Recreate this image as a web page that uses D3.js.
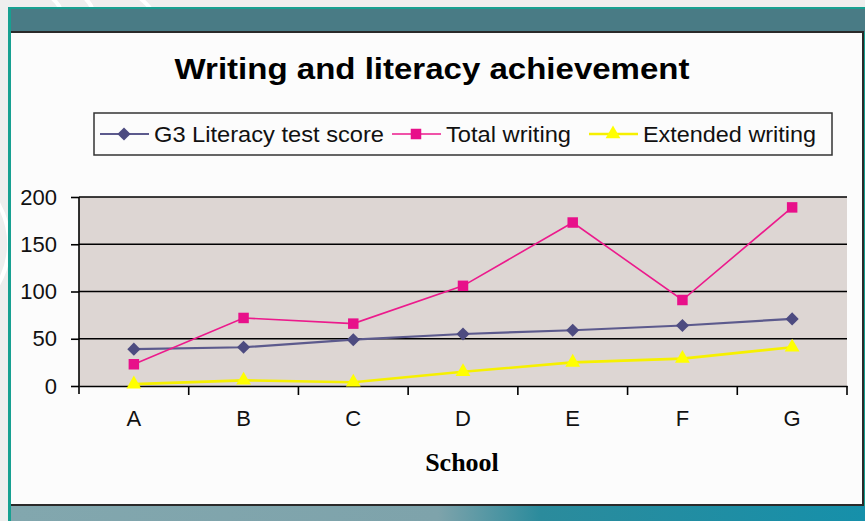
<!DOCTYPE html>
<html>
<head>
<meta charset="utf-8">
<script src="https://cdn.jsdelivr.net/npm/d3@7"></script>
<style>
  body { margin: 0; background: #eeeeee; }
  svg { display: block; font-family: "Liberation Sans", Arial, sans-serif; }
  .axis path, .axis line { stroke: #000; }
  .grid line { stroke: #000; stroke-width: 1.6; }
</style>
</head>
<body>
<div id="chart"></div>
<script>
// chart data
const schools = ['A', 'B', 'C', 'D', 'E', 'F', 'G']
const g3Literacy = [39, 41, 49, 55, 59, 64, 71]
const totalWriting = [23, 72, 66, 106, 173, 91, 189]
const extendedWriting = [2, 6, 4, 15, 25, 29, 41]
const yTicks = [0, 50, 100, 150, 200]
const seriesNames = ['G3 Literacy test score', 'Total writing', 'Extended writing']

let W = 865, H = 521
let plot = { left: 79, right: 847, top: 197, bottom: 386 }

let svg = d3.select('#chart')
    .append('svg')
    .attr('width', W)
    .attr('height', H)

// slide background with a few pale swirls
svg.append('rect').attr('width', W).attr('height', H).attr('fill', '#eeeeee')
let swirl = svg.append('g').attr('fill', 'none').attr('stroke', '#ffffff').attr('stroke-width', 4)
swirl.append('path').attr('d', 'M-40,330 Q40,260 -10,190')
swirl.append('path').attr('d', 'M52,-2 Q58,3 60,8')
swirl.append('path').attr('d', 'M85,-2 Q90,3 92,8')
swirl.append('path').attr('d', 'M140,-2 Q146,3 150,8')

// frame: teal header band, bottom band and white panel
let bottomGrad = svg.append('defs').append('linearGradient')
    .attr('id', 'bottomGrad')
bottomGrad.append('stop').attr('offset', '0%').attr('stop-color', '#82a7ae')
bottomGrad.append('stop').attr('offset', '50%').attr('stop-color', '#7ea3ab')
bottomGrad.append('stop').attr('offset', '62%').attr('stop-color', '#2b8b9c')
bottomGrad.append('stop').attr('offset', '100%').attr('stop-color', '#1690aa')

svg.append('rect').attr('x', 8).attr('y', 7).attr('width', W - 8).attr('height', H - 7).attr('fill', '#17a091')
svg.append('rect').attr('x', 11).attr('y', 9).attr('width', W - 11).attr('height', 23).attr('fill', '#497b85')
svg.append('rect').attr('x', 11).attr('y', 506).attr('width', W - 11).attr('height', 15).attr('fill', 'url(#bottomGrad)')
svg.append('rect').attr('x', 11).attr('y', 31).attr('width', 853).attr('height', 475).attr('fill', '#2a2a2a')
svg.append('rect').attr('x', 11).attr('y', 33).attr('width', 851).attr('height', 471).attr('fill', '#fcfcfc')

// title
svg.append('text')
    .attr('x', 432)
    .attr('y', 79)
    .attr('text-anchor', 'middle')
    .attr('font-size', 30)
    .attr('font-weight', 'bold')
    .attr('textLength', 515)
    .attr('lengthAdjust', 'spacingAndGlyphs')
    .text('Writing and literacy achievement')

// scales
let x = d3.scaleBand()
    .domain(schools)
    .range([plot.left, plot.right])
    .padding(0)

let y = d3.scaleLinear()
    .domain([0, 200])
    .range([plot.bottom, plot.top])

let cx = d => x(d) + x.bandwidth() / 2

// plot area
svg.append('rect')
    .attr('x', plot.left)
    .attr('y', plot.top)
    .attr('width', plot.right - plot.left)
    .attr('height', plot.bottom - plot.top)
    .attr('fill', '#ddd6d3')

// gridlines
svg.append('g')
    .attr('class', 'grid')
    .selectAll('line')
    .data(yTicks.filter(d => d > 0))
    .enter()
    .append('line')
    .attr('x1', plot.left)
    .attr('x2', plot.right)
    .attr('y1', d => y(d))
    .attr('y2', d => y(d))

// y axis
let yAxis = svg.append('g')
    .attr('class', 'axis')
    .attr('transform', `translate(${plot.left},0)`)
    .call(d3.axisLeft(y).tickValues(yTicks).tickSize(8).tickSizeOuter(0).tickPadding(14))
yAxis.select('.domain').attr('d', `M0,${plot.top}V${plot.bottom + 8}`).attr('stroke-width', 1.6)
yAxis.selectAll('line').attr('stroke-width', 1.6)
yAxis.selectAll('text')
    .attr('font-size', 22)
    .attr('font-family', '"Liberation Sans", Arial, sans-serif')
    .attr('fill', '#111')

// x axis: labels at category centres, ticks at category boundaries
let xAxis = svg.append('g')
    .attr('class', 'axis')
    .attr('transform', `translate(0,${plot.bottom})`)
    .call(d3.axisBottom(x).tickSize(0).tickPadding(24))
xAxis.select('.domain').attr('stroke-width', 1.6)
xAxis.selectAll('text')
    .attr('font-size', 22)
    .attr('font-family', '"Liberation Sans", Arial, sans-serif')
    .attr('fill', '#111')

xAxis.selectAll('line.bound')
    .data(schools.slice(1).map(d => x(d)).concat([plot.right]))
    .enter()
    .append('line')
    .attr('class', 'bound')
    .attr('x1', d => d)
    .attr('x2', d => d)
    .attr('y1', 0)
    .attr('y2', 9)
    .attr('stroke', '#000')
    .attr('stroke-width', 1.6)

// x axis title
svg.append('text')
    .attr('x', 462)
    .attr('y', 471)
    .attr('text-anchor', 'middle')
    .attr('font-family', '"Liberation Serif", "Times New Roman", serif')
    .attr('font-weight', 'bold')
    .attr('font-size', 26)
    .text('School')

// series
let diamond = d3.symbol().type(d3.symbolDiamond2).size(110)
let square = d3.symbol().type(d3.symbolSquare).size(110)
let triangle = d3.symbol().type(d3.symbolTriangle).size(95)

let series = [
    { name: seriesNames[0], values: g3Literacy, color: '#5c5a8d', marker: '#4d4b80', width: 2.2, symbol: diamond },
    { name: seriesNames[1], values: totalWriting, color: '#ec1a8c', marker: '#e8108a', width: 1.6, symbol: square },
    { name: seriesNames[2], values: extendedWriting, color: '#f6f000', marker: '#ffff00', width: 2.6, symbol: triangle }
]

let line = d3.line()
    .x((d, i) => cx(schools[i]))
    .y(d => y(d))

series.forEach(s => {
    svg.append('path')
        .datum(s.values)
        .attr('fill', 'none')
        .attr('stroke', s.color)
        .attr('stroke-width', s.width)
        .attr('d', line)
    svg.selectAll(null)
        .data(s.values)
        .enter()
        .append('path')
        .attr('d', s.symbol)
        .attr('transform', (d, i) => `translate(${cx(schools[i])},${y(d)})`)
        .attr('fill', s.marker)
})

// legend
let legend = svg.append('g')
legend.append('rect')
    .attr('x', 94)
    .attr('y', 113)
    .attr('width', 738)
    .attr('height', 42)
    .attr('fill', '#fcfcfc')
    .attr('stroke', '#333')
    .attr('stroke-width', 1.5)

let legendX = [100, 392, 589]
let legendLen = [230, 125, 173]
series.forEach((s, i) => {
    let g = legend.append('g').attr('transform', `translate(${legendX[i]},134)`)
    g.append('line')
        .attr('x1', 0).attr('x2', 49)
        .attr('stroke', s.color)
        .attr('stroke-width', s.width)
    g.append('path')
        .attr('d', s.symbol)
        .attr('transform', 'translate(24,0)')
        .attr('fill', s.marker)
    g.append('text')
        .attr('x', 54)
        .attr('y', 8)
        .attr('font-size', 22)
        .attr('fill', '#111')
        .attr('textLength', legendLen[i])
        .attr('lengthAdjust', 'spacingAndGlyphs')
        .text(s.name)
})
</script>
</body>
</html>
